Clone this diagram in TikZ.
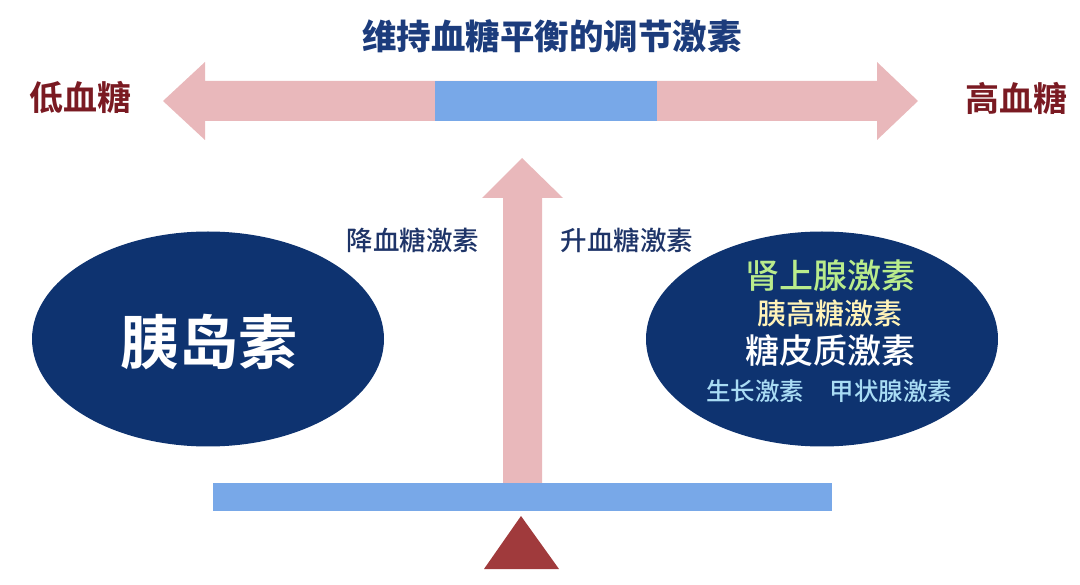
\documentclass[tikz,border=0pt]{standalone}
\usepackage{fontspec}
\setmainfont{Noto Sans CJK SC}
\newfontfamily\cjkb{Noto Sans CJK SC Black}
\newfontfamily\cjkm{Noto Sans CJK SC Medium}
\newfontfamily\cjkbold{Noto Sans CJK SC Bold}
\usetikzlibrary{shapes.geometric}
\definecolor{pinkc}{HTML}{E9B8BB}
\definecolor{bluec}{HTML}{78A8E8}
\definecolor{navy}{HTML}{0E3370}
\definecolor{titlec}{HTML}{1C3C7C}
\definecolor{redc}{HTML}{7A1A22}
\definecolor{tric}{HTML}{A03A3C}
\definecolor{greenc}{HTML}{B9EC8C}
\definecolor{yellowc}{HTML}{FFF3B8}
\definecolor{lbluec}{HTML}{A9DCF4}
\definecolor{labc}{HTML}{1E3468}
\tikzset{
  oval/.style={ellipse, fill=navy, draw=none, minimum width=352pt, minimum height=215pt, inner sep=0pt},
  txt/.style={inner sep=0pt, anchor=center},
}
\begin{document}
\begin{tikzpicture}[x=1pt,y=-1pt]
\useasboundingbox (0,0) rectangle (1080,585);
% top double arrow
\fill[pinkc] (163,101) -- (205,62) -- (205,81) -- (877,81) -- (877,62) -- (918,101) -- (877,140) -- (877,121) -- (205,121) -- (205,140) -- cycle;
\fill[bluec] (435,81) rectangle (657,121);
% vertical arrow
\fill[pinkc] (503,485) -- (503,198) -- (482,198) -- (522,158) -- (563,198) -- (542,198) -- (542,485) -- cycle;
% balance bar
\node[fill=bluec, minimum width=619pt, minimum height=28pt, inner sep=0pt] (bar) at (522.5,497) {};
% fulcrum
\fill[tric] (521,516) -- (559,569) -- (484,569) -- cycle;
% title
\node[txt, font=\cjkb\fontsize{34.5}{34.5}\selectfont, text=titlec] (title) at (552,36) {维持血糖平衡的调节激素};
\node[txt, font=\cjkbold\fontsize{34}{34}\selectfont, text=redc] (low) at (81,98) {低血糖};
\node[txt, font=\cjkbold\fontsize{34}{34}\selectfont, text=redc] (high) at (1016,98) {高血糖};
% side labels
\node[txt, font=\cjkm\fontsize{26.5}{26.5}\selectfont, text=labc] (down) at (413,240) {降血糖激素};
\node[txt, font=\cjkm\fontsize{26.5}{26.5}\selectfont, text=labc] (up) at (627,240) {升血糖激素};
% ellipses
\node[oval] (left) at (208,339) {};
\node[txt, font=\cjkbold\fontsize{59}{59}\selectfont, text=white] (ins) at (209,342) {胰岛素};
\node[oval] (right) at (822,339) {};
\node[txt, font=\cjkm\fontsize{34}{34}\selectfont, text=greenc] (h1) at (830,276) {肾上腺激素};
\node[txt, font=\cjkm\fontsize{29}{29}\selectfont, text=yellowc] (h2) at (830,313) {胰高糖激素};
\node[txt, font=\cjkm\fontsize{34}{34}\selectfont, text=white] (h3) at (830,351) {糖皮质激素};
\node[txt, font=\cjkm\fontsize{24.5}{24.5}\selectfont, text=lbluec] (h4) at (755,391) {生长激素};
\node[txt, font=\cjkm\fontsize{24.5}{24.5}\selectfont, text=lbluec] (h5) at (891,391) {甲状腺激素};
\end{tikzpicture}
\end{document}
